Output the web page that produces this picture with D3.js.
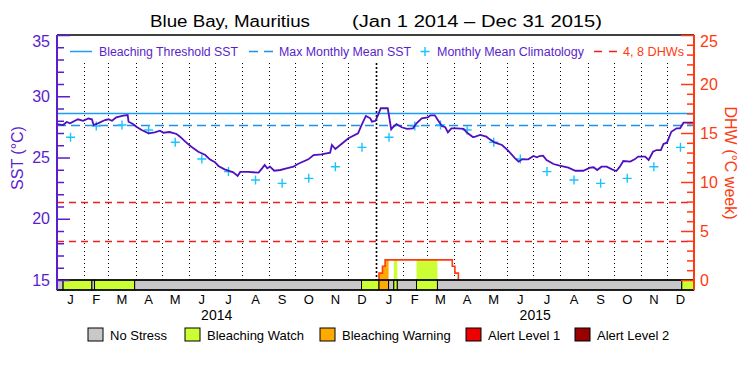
<!DOCTYPE html>
<html lang="en">
<head>
<meta charset="UTF-8">
<title>Blue Bay, Mauritius</title>
<script src="https://d3js.org/d3.v7.min.js"></script>
<style>
  body { margin: 0; background: #fff; }
  svg { font-family: "Liberation Sans", Arial, sans-serif; }
</style>
</head>
<body>
<svg id="chart" width="750" height="375"></svg>
<script>
// SST: [days since Jan 1 2014, degC]
const sstSeries = [
  [0,27.73],[7,27.65],[11,27.90],[15,27.79],[24,28.12],[30,28.00],[36,28.18],[40,28.12],[42,27.65],[47,27.79],
  [55,28.06],[59,28.12],[63,28.00],[68,28.28],[76,28.41],[81,28.47],[82,27.92],[87,27.73],[91,27.51],[97,27.24],
  [105,26.97],[112,27.05],[118,27.19],[122,27.02],[129,27.08],[137,26.92],[141,26.70],[147,26.29],[154,25.88],[162,25.47],
  [170,25.20],[175,24.85],[181,24.62],[185,24.31],[192,24.03],[202,23.79],[207,23.49],[210,23.82],[219,23.82],[231,23.76],
  [235,24.11],[238,24.39],[241,24.11],[244,24.25],[249,23.92],[256,23.98],[263,24.11],[271,24.25],[276,24.47],[288,24.85],
  [294,25.20],[303,25.26],[313,25.39],[315,26.02],[319,25.69],[326,26.10],[334,26.57],[345,26.97],[349,27.65],[354,28.39],
  [359,28.20],[361,27.92],[365,28.00],[368,28.47],[371,29.02],[379,29.02],[380,28.61],[383,27.30],[385,27.47],[389,27.73],
  [395,27.47],[401,27.33],[408,27.38],[412,27.79],[418,28.20],[425,28.28],[428,28.44],[433,28.44],[437,28.00],[441,27.57],
  [445,27.47],[448,27.05],[452,27.38],[458,27.38],[466,27.33],[470,27.02],[477,26.65],[485,26.84],[492,26.70],[496,26.48],
  [502,26.21],[510,26.02],[517,25.56],[525,24.93],[529,24.66],[533,24.85],[540,24.85],[546,25.12],[550,25.01],[553,25.12],
  [557,25.15],[561,24.80],[569,24.47],[576,24.33],[586,24.17],[594,23.92],[603,23.92],[611,24.17],[615,24.20],[619,23.98],
  [624,24.25],[630,24.25],[636,24.03],[641,23.90],[645,24.25],[649,24.71],[657,24.66],[662,24.85],[666,25.07],[674,25.07],
  [678,24.80],[683,25.47],[687,25.61],[692,25.61],[695,26.10],[699,26.21],[704,27.10],[710,27.38],[714,27.38],[718,27.84],
  [724,27.84],[730,27.84]
];

// monthly mean climatology, Jan..Dec
const climatology = [26.65, 27.57, 27.65, 27.24, 26.24, 24.88, 23.85, 23.16, 22.89, 23.30, 24.25, 25.83];
const maxMonthlyMean = 27.65;
const bleachThreshold = 28.65;
const dhwLevels = [4, 8];

// degree heating weeks (step curve)
const dhwDays = [369, 369, 373, 376, 453, 456, 460];
const dhwValues = [0, 0.7, 1.4, 2.05, 1.4, 0.7, 0];

// stress level segments: start day, level (ends at next start)
const stressStart = [0, 7, 40, 43, 89, 349, 369, 380, 386, 390, 412, 436, 716];
const stressLevel = [0, 1, 0, 1, 0, 1, 2, 0, 1, 0, 1, 0, 1];
const stressNames = ["No Stress", "Bleaching Watch", "Bleaching Warning", "Alert Level 1", "Alert Level 2"];
const stressColors = ["#c8c8c8", "#ccff33", "#ffaa00", "#ee0000", "#990000"];

const sstTicks = [15, 20, 25, 30, 35];
const dhwTicks = [0, 5, 10, 15, 20, 25];
const monthLetters = ["J","F","M","A","M","J","J","A","S","O","N","D"];
const totalDays = 730;

const PURPLE = "#5a1ecc", LINE = "#5010c0", ORANGE = "#ff3a10";
const pL = 57, pR = 694, pT = 35, pB = 280, barB = 290;

const t0 = Date.UTC(2014, 0, 1);
const day = d => new Date(t0 + d * 864e5);
const crisp = v => Math.round(v) + 0.5;

const svg = d3.select("#chart");

const x = d3.scaleUtc().domain([day(0), day(totalDays)]).range([pL, pR]);
const y = d3.scaleLinear().domain([15, 35]).range([pB, pT]);
const yd = d3.scaleLinear().domain([0, 25]).range([pB, pT]);

// title
svg.append("text").attr("x", 150).attr("y", 27).attr("font-size", 16)
  .attr("textLength", 160).attr("lengthAdjust", "spacingAndGlyphs")
  .text("Blue Bay, Mauritius");
svg.append("text").attr("x", 352).attr("y", 27).attr("font-size", 16)
  .attr("textLength", 250).attr("lengthAdjust", "spacingAndGlyphs")
  .text("(Jan 1 2014 \u2013 Dec 31 2015)");

// month gridlines
const months = d3.utcMonth.range(day(0), day(totalDays));
svg.append("g").selectAll("line")
  .data(months.slice(1))
  .join("line")
  .attr("x1", d => crisp(x(d)))
  .attr("x2", d => crisp(x(d)))
  .attr("y1", 63).attr("y2", pB)
  .attr("stroke", "#000")
  .attr("stroke-width", d => d.getUTCMonth() === 0 ? 1.6 : 1)
  .attr("stroke-dasharray", d => d.getUTCMonth() === 0 ? "2,2" : "1,3");

// DHW fill coloured by stress level, clipped to area under DHW curve
const dhwPts = dhwDays.map((d, i) => [d, dhwValues[i]]);
svg.append("clipPath").attr("id", "dhwClip")
  .append("path")
  .attr("d", d3.area().curve(d3.curveStepAfter)
    .x(d => x(day(d[0]))).y0(pB).y1(d => yd(d[1]))(dhwPts));

const segs = stressStart.map((s, i) => ({
  start: s,
  end: i < stressStart.length - 1 ? stressStart[i + 1] : totalDays,
  level: stressLevel[i]
}));

svg.append("g").attr("clip-path", "url(#dhwClip)")
  .selectAll("rect")
  .data(segs.filter(s => s.level > 0))
  .join("rect")
  .attr("x", d => x(day(d.start)))
  .attr("width", d => x(day(d.end)) - x(day(d.start)))
  .attr("y", pT).attr("height", pB - pT)
  .attr("fill", d => stressColors[d.level]);

// reference lines
svg.append("line").attr("x1", pL).attr("x2", pR)
  .attr("y1", crisp(y(bleachThreshold))).attr("y2", crisp(y(bleachThreshold)))
  .attr("stroke", "#1a9cff").attr("stroke-width", 1.5);
svg.append("line").attr("x1", pL).attr("x2", pR)
  .attr("y1", crisp(y(maxMonthlyMean))).attr("y2", crisp(y(maxMonthlyMean)))
  .attr("stroke", "#2090ea").attr("stroke-width", 1.5).attr("stroke-dasharray", "9,5");
svg.append("g").selectAll("line")
  .data(dhwLevels)
  .join("line")
  .attr("x1", pL).attr("x2", pR)
  .attr("y1", d => crisp(yd(d))).attr("y2", d => crisp(yd(d)))
  .attr("stroke", "#f01e1e").attr("stroke-width", 1.3).attr("stroke-dasharray", "7,5");

// climatology crosses at mid-month
svg.append("g").selectAll("path")
  .data(months)
  .join("path")
  .attr("transform", d => {
    const mid = new Date((+d + +d3.utcMonth.offset(d, 1)) / 2);
    return `translate(${x(mid)},${y(climatology[d.getUTCMonth()])})`;
  })
  .attr("d", "M-4.5,0H4.5M0,-4.5V4.5")
  .attr("stroke", "#18c4ff").attr("stroke-width", 1.4);

// SST line
svg.append("path")
  .datum(sstSeries)
  .attr("fill", "none")
  .attr("stroke", LINE)
  .attr("stroke-width", 1.8)
  .attr("d", d3.line().x(d => x(day(d[0]))).y(d => y(d[1])));

// DHW line
svg.append("path")
  .datum(dhwPts)
  .attr("fill", "none")
  .attr("stroke", ORANGE)
  .attr("stroke-width", 1.6)
  .attr("d", d3.line().curve(d3.curveStepAfter).x(d => x(day(d[0]))).y(d => yd(d[1])));

// stress bar
svg.append("g").selectAll("rect")
  .data(segs)
  .join("rect")
  .attr("x", d => x(day(d.start)))
  .attr("width", d => x(day(d.end)) - x(day(d.start)))
  .attr("y", pB).attr("height", barB - pB)
  .attr("fill", d => stressColors[d.level])
  .attr("stroke", "#000").attr("stroke-width", 1);

// frame
svg.append("line").attr("x1", pL).attr("x2", pR).attr("y1", pT).attr("y2", pT)
  .attr("stroke", "#000").attr("stroke-width", 1.5);
svg.append("line").attr("x1", pL).attr("x2", pR).attr("y1", pB).attr("y2", pB)
  .attr("stroke", "#000").attr("stroke-width", 1.5);
svg.append("line").attr("x1", pL).attr("x2", pR).attr("y1", barB).attr("y2", barB)
  .attr("stroke", "#000").attr("stroke-width", 1.5);

// left axis
const yAxisG = svg.append("g").attr("transform", `translate(${pL},0)`)
  .call(d3.axisLeft(y).tickValues(sstTicks).tickSizeInner(-13).tickSizeOuter(0).tickPadding(7));
yAxisG.append("g")
  .call(d3.axisLeft(y).tickValues(d3.range(15, 36).filter(v => v % 5)).tickSizeInner(-7).tickSizeOuter(0).tickFormat(""));
yAxisG.selectAll(".domain").remove();
yAxisG.attr("font-family", null).attr("font-size", 16);
yAxisG.selectAll("line").attr("stroke", PURPLE).attr("stroke-width", 1.5);
yAxisG.selectAll("text").attr("fill", PURPLE);
yAxisG.selectAll(".tick text").filter(d => d === 35).attr("dy", "0.7em");
svg.append("line").attr("x1", pL).attr("x2", pL).attr("y1", pT).attr("y2", barB)
  .attr("stroke", PURPLE).attr("stroke-width", 2);

// right axis
const dAxisG = svg.append("g").attr("transform", `translate(${pR},0)`)
  .call(d3.axisRight(yd).tickValues(dhwTicks).tickSizeInner(-13).tickSizeOuter(0).tickPadding(6));
dAxisG.append("g")
  .call(d3.axisRight(yd).tickValues(d3.range(0, 26).filter(v => v % 5)).tickSizeInner(-7).tickSizeOuter(0).tickFormat(""));
dAxisG.selectAll(".domain").remove();
dAxisG.attr("font-family", null).attr("font-size", 16);
dAxisG.selectAll("line").attr("stroke", ORANGE).attr("stroke-width", 1.5);
dAxisG.selectAll("text").attr("fill", ORANGE);
dAxisG.selectAll(".tick text").filter(d => d === 25).attr("dy", "0.7em");
svg.append("line").attr("x1", pR).attr("x2", pR).attr("y1", pT).attr("y2", barB)
  .attr("stroke", ORANGE).attr("stroke-width", 2);

// axis titles
svg.append("text").attr("transform", "translate(23,158) rotate(-90)")
  .attr("text-anchor", "middle").attr("font-size", 16).attr("fill", PURPLE)
  .text("SST (\u00B0C)");
svg.append("text").attr("transform", "translate(725,163) rotate(90)")
  .attr("text-anchor", "middle").attr("font-size", 16).attr("fill", ORANGE)
  .text("DHW (\u00B0C week)");

// month + year labels
svg.append("g").selectAll("text")
  .data(months)
  .join("text")
  .attr("x", d => x(new Date((+d + +d3.utcMonth.offset(d, 1)) / 2)))
  .attr("y", 304)
  .attr("text-anchor", "middle").attr("font-size", 13)
  .text(d => monthLetters[d.getUTCMonth()]);
svg.append("g").selectAll("text")
  .data([2014, 2015])
  .join("text")
  .attr("x", d => x(new Date(Date.UTC(d, 6, 3))))
  .attr("y", 320)
  .attr("text-anchor", "middle").attr("font-size", 14)
  .text(d => d);

// top legend
const lg = svg.append("g");
const legendText = (x0, len, color, label) =>
  lg.append("text").attr("x", x0).attr("y", 55.5).attr("font-size", 12.5).attr("fill", color)
    .attr("textLength", len).attr("lengthAdjust", "spacingAndGlyphs").text(label);
lg.append("line").attr("x1", 70).attr("x2", 92).attr("y1", 51.5).attr("y2", 51.5)
  .attr("stroke", "#1a9cff").attr("stroke-width", 1.5);
legendText(99, 139, PURPLE, "Bleaching Threshold SST");
lg.append("line").attr("x1", 249).attr("x2", 273).attr("y1", 51.5).attr("y2", 51.5)
  .attr("stroke", "#2090ea").attr("stroke-width", 1.5).attr("stroke-dasharray", "9,6");
legendText(279, 132, PURPLE, "Max Monthly Mean SST");
lg.append("path").attr("d", "M420.5,51.5H429.5M425,47V56")
  .attr("stroke", "#18c4ff").attr("stroke-width", 1.4);
legendText(437, 147, PURPLE, "Monthly Mean Climatology");
lg.append("line").attr("x1", 594).attr("x2", 617).attr("y1", 51.5).attr("y2", 51.5)
  .attr("stroke", "#f01e1e").attr("stroke-width", 1.4).attr("stroke-dasharray", "8,7");
legendText(623, 61, ORANGE, "4, 8 DHWs");

// stress legend
const legX = [88, 185, 320, 466, 575];
const sl = svg.append("g").selectAll("g")
  .data(stressNames)
  .join("g")
  .attr("transform", (d, i) => `translate(${legX[i]},328)`);
sl.append("rect").attr("width", 15).attr("height", 13)
  .attr("fill", (d, i) => stressColors[i]).attr("stroke", "#000").attr("stroke-width", 1);
sl.append("text").attr("x", 22).attr("y", 11.5).attr("font-size", 13).text(d => d);
</script>
</body>
</html>
